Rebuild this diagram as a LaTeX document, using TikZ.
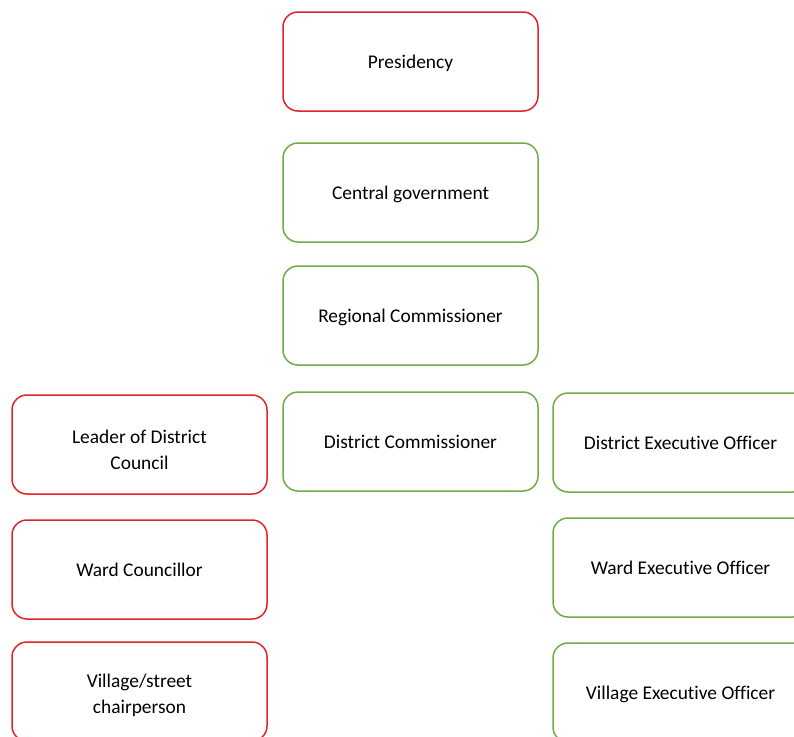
\documentclass[tikz,border=0pt]{standalone}
\usepackage{fontspec}
\setmainfont[Ligatures=NoCommon]{Carlito}
\definecolor{boxred}{HTML}{E02428}
\definecolor{boxgreen}{HTML}{70AD47}
\newcommand{\twolines}[3][8pt]{\raisebox{#1}{\begin{tabular}{@{}c@{}}#2\\#3\end{tabular}}}
\tikzset{
  orgbox/.style={draw, line width=1.5pt, rounded corners=15pt, minimum width=255pt, minimum height=99pt, align=center, font=\fontsize{19.4}{26}\selectfont, inner sep=0pt, fill=white, text depth=0pt},
  redbox/.style={orgbox, draw=boxred},
  greenbox/.style={orgbox, draw=boxgreen}
}
\begin{document}
\begin{tikzpicture}[x=1pt,y=-1pt]
\useasboundingbox (0,0) rectangle (794,736);
\clip (0,0) rectangle (794,736);
\fill[white] (0,0) rectangle (794,736);
\node[redbox] (pres) at (410.5,61.5) {Presidency};
\node[greenbox] (cg) at (410.5,192.5) {Central government};
\node[greenbox] (rc) at (410.5,315.5) {Regional Commissioner};
\node[greenbox] (dc) at (410.5,441.5) {District Commissioner};
\node[redbox] (ldc) at (139.5,444.5) {\twolines{Leader of District}{Council}};
\node[redbox] (wc) at (139.5,569.5) {Ward Councillor};
\node[redbox] (vc) at (139.5,691.5) {\twolines[14pt]{Village/street}{chairperson}};
\node[greenbox] (deo) at (680.5,442.5) {District Executive Officer};
\node[greenbox] (weo) at (680.5,567.5) {Ward Executive Officer};
\node[greenbox] (veo) at (680.5,692.5) {Village Executive Officer};
\end{tikzpicture}
\end{document}
